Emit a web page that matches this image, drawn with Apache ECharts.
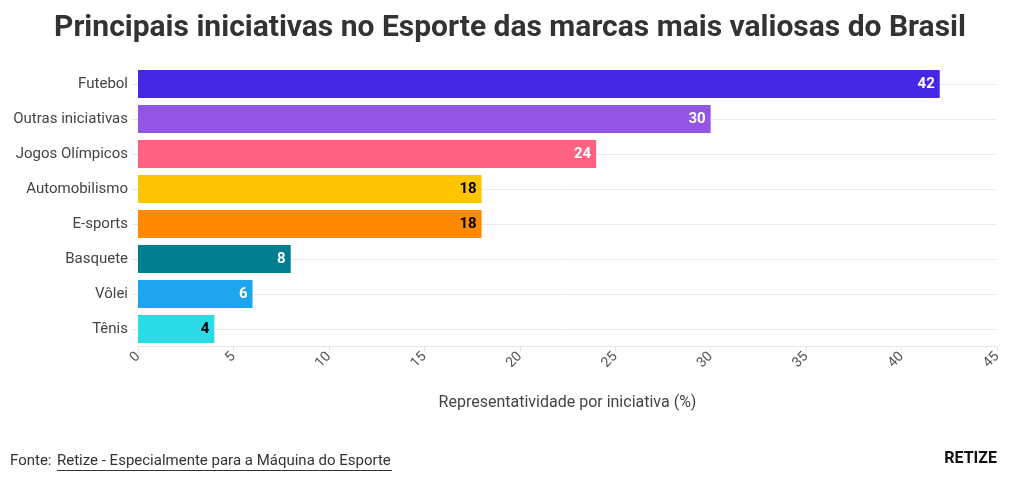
<!DOCTYPE html>
<html><head><meta charset="utf-8">
<script src="https://cdn.jsdelivr.net/npm/echarts@6/dist/echarts.min.js"></script>
<style>html,body{margin:0;padding:0;background:#fff}#c{width:1020px;height:495px}</style>
</head><body><div id="c"></div>
<script>
const categories = ["Futebol","Outras iniciativas","Jogos Olímpicos","Automobilismo","E-sports","Basquete","Vôlei","Tênis"];
const values = [42,30,24,18,18,8,6,4];
const barColors = ["#4428E5","#9355E4","#FE6283","#FFC400","#FF8A00","#007D8E","#1DA6EE","#2BDBE6"];
const labelColors = ["#fff","#fff","#fff","#000","#000","#fff","#fff","#000"];
const xTicks = [0,5,10,15,20,25,30,35,40,45];

const chart = echarts.init(document.getElementById('c'));
const F = 'Roboto, "Noto Sans", sans-serif';
chart.setOption({
  animation:false,
  title:{text:'Principais iniciativas no Esporte das marcas mais valiosas do Brasil',left:'center',top:8,
    textStyle:{fontFamily:F,fontSize:30,fontWeight:'bold',color:'#333'}},
  grid:{left:138,right:23,top:66.5,bottom:148.5,containLabel:false},
  xAxis:{type:'value',min:xTicks[0],max:xTicks[xTicks.length-1],interval:5,
    axisLine:{show:true,lineStyle:{color:'#e6e6e6'}},axisTick:{show:true,length:5,lineStyle:{color:'#e6e6e6'}},
    splitLine:{show:false},
    axisLabel:{rotate:45,color:'#555',fontFamily:F,fontSize:14,margin:8},
    name:'Representatividade por iniciativa (%)',nameLocation:'middle',nameGap:48,
    nameTextStyle:{color:'#444',fontFamily:F,fontSize:16}},
  yAxis:[{type:'category',data:categories,inverse:true,
    axisLine:{show:false},axisTick:{show:true,alignWithLabel:true,length:6,lineStyle:{color:'#e6e6e6'}},
    axisLabel:{color:'#444',fontFamily:F,fontSize:15,margin:10}},
   {type:'category',data:categories,inverse:true,position:'left',
    axisLine:{show:false},axisLabel:{show:false},
    axisTick:{show:true,inside:true,alignWithLabel:true,length:859,lineStyle:{color:'#ececec'}}}],
  series:[{type:'bar',yAxisIndex:0,barCategoryGap:'20%',z:3,
    data:values.map((v,i)=>({value:v,itemStyle:{color:barColors[i]},
      label:{color:labelColors[i]}})),
    label:{show:true,position:'insideRight',fontFamily:F,fontWeight:'bold',fontSize:15,distance:5}}],
  graphic:[
    {type:'text',left:10,top:454,style:{text:'Fonte:',fontFamily:F,fontSize:15,fill:'#333'}},
    {type:'group',left:57,top:454,children:[
      {type:'text',style:{text:'Retize - Especialmente para a Máquina do Esporte',fontFamily:F,fontSize:15,fill:'#333'}},
      {type:'rect',shape:{x:0,y:16,width:335,height:1},style:{fill:'#333'}}]},
    {type:'text',right:23,top:451,style:{text:'RETIZE',fontFamily:F,fontSize:16,fontWeight:'bold',fill:'#111'}}
  ]
});
</script></body></html>
